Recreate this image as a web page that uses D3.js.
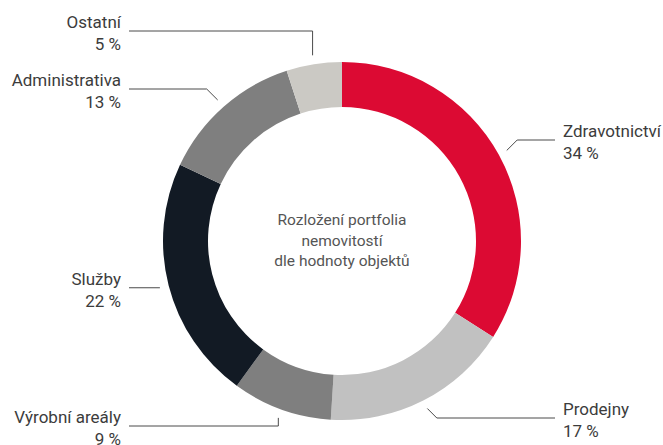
<!DOCTYPE html>
<html>
<head>
<meta charset="utf-8">
<script src="https://cdn.jsdelivr.net/npm/d3@7"></script>
<style>
  html, body { margin: 0; padding: 0; background: #ffffff; }
  svg { display: block; }
</style>
</head>
<body>
<svg id="chart" width="663" height="445"></svg>
<script>
// Portfolio breakdown by property type (share of value, %)
const categories = ["Zdravotnictví", "Prodejny", "Výrobní areály", "Služby", "Administrativa", "Ostatní"];
const shares = [34, 17, 9, 22, 13, 5];
const colors = ["#dc0a33", "#c1c1c1", "#7f7f7f", "#121a24", "#7f7f7f", "#cbc9c4"];
const centerTitle = ["Rozložení portfolia", "nemovitostí", "dle hodnoty objektů"];

// Label placement: which side, y of the horizontal leader, and elbow style
const labelLayout = [
  { side: "right", lineY: 140, elbow: "diag" },
  { side: "right", lineY: 418, elbow: "diag" },
  { side: "left",  lineY: 426, elbow: "vert" },
  { side: "left",  lineY: null, elbow: "flat" },
  { side: "left",  lineY: 89,  elbow: "diag" },
  { side: "left",  lineY: 31,  elbow: "vert" }
];

const W = 663, H = 445;
const cx = 342, cy = 241;
const outerR = 179, innerR = 134, anchorR = 188;
const leftLineX = 129, rightLineX = 555;
const leftTextX = 121, rightTextX = 563;

const svg = d3.select("#chart");
const g = svg.append("g").attr("transform", `translate(${cx},${cy})`);

const data = categories.map((c, i) => ({ name: c, value: shares[i], color: colors[i], layout: labelLayout[i] }));

const pie = d3.pie().value(d => d.value).sort(null);
const arcs = pie(data);

const arc = d3.arc().innerRadius(innerR).outerRadius(outerR);
const anchorArc = d3.arc().innerRadius(anchorR).outerRadius(anchorR);

g.selectAll("path.slice")
  .data(arcs)
  .join("path")
  .attr("class", "slice")
  .attr("d", arc)
  .attr("fill", d => d.data.color);

// Leader lines
const lines = arcs.map(a => {
  const [ax, ay] = anchorArc.centroid(a);
  const L = a.data.layout;
  const x0 = ax + cx, y0 = ay + cy;
  const lineY = L.lineY == null ? y0 : L.lineY;
  const endX = L.side === "right" ? rightLineX : leftLineX;
  const pts = [[x0, y0]];
  if (L.elbow === "diag") {
    const dy = Math.abs(lineY - y0);
    pts.push([x0 + (L.side === "right" ? dy : -dy), lineY]);
  } else if (L.elbow === "vert") {
    pts.push([x0, lineY]);
  }
  pts.push([endX, lineY]);
  return { pts, lineY, a };
});

svg.selectAll("path.leader")
  .data(lines)
  .join("path")
  .attr("class", "leader")
  .attr("d", d => d3.line()(d.pts))
  .attr("fill", "none")
  .attr("stroke", "#4a4a4a")
  .attr("stroke-width", 1);

// Labels
const labelFont = "Roboto, 'Noto Sans', sans-serif";
const labels = svg.selectAll("text.label")
  .data(lines)
  .join("text")
  .attr("class", "label")
  .attr("font-family", labelFont)
  .attr("font-size", 17)
  .attr("fill", "#3c3c3c")
  .attr("text-anchor", d => d.a.data.layout.side === "right" ? "start" : "end")
  .attr("x", d => d.a.data.layout.side === "right" ? rightTextX : leftTextX)
  .attr("y", d => d.lineY - 3);

labels.append("tspan")
  .text(d => d.a.data.name);
labels.append("tspan")
  .attr("x", d => d.a.data.layout.side === "right" ? rightTextX : leftTextX)
  .attr("dy", 22)
  .text(d => d.a.data.value + " %");

// Center title
svg.append("text")
  .attr("font-family", labelFont)
  .attr("font-size", 15.5)
  .attr("fill", "#555555")
  .attr("text-anchor", "middle")
  .selectAll("tspan")
  .data(centerTitle)
  .join("tspan")
  .attr("x", cx)
  .attr("y", (d, i) => 225 + i * 20.5)
  .text(d => d);
</script>
</body>
</html>
